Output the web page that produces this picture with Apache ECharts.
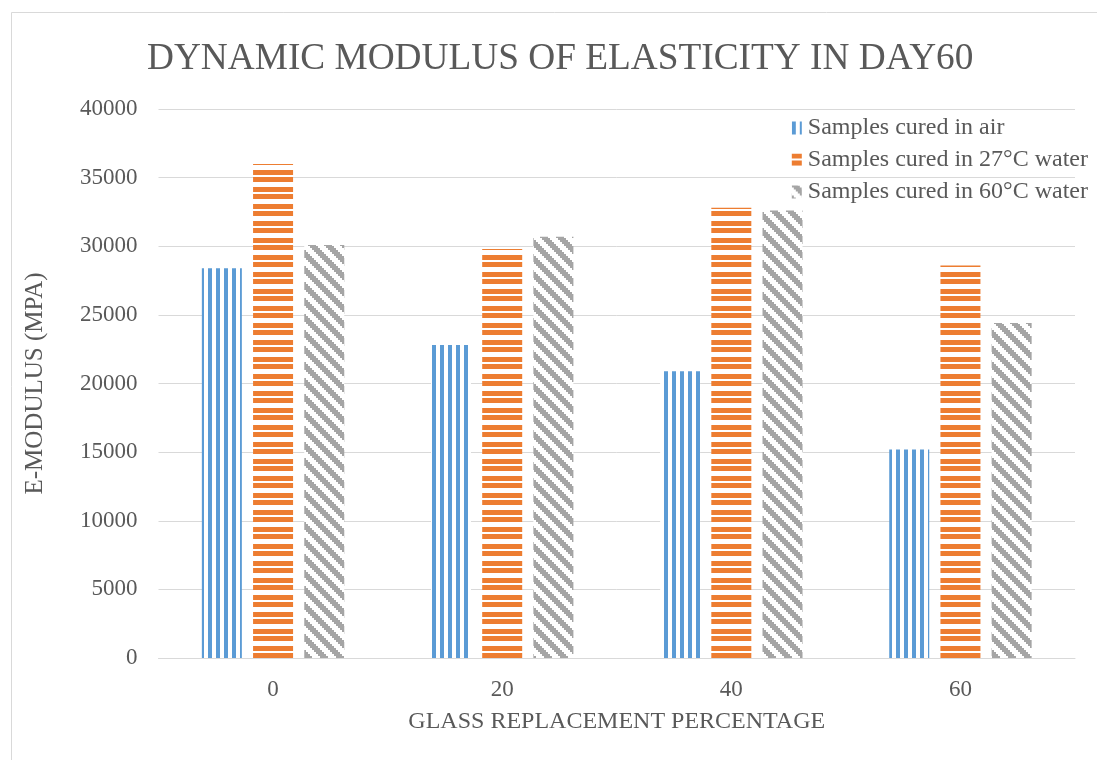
<!DOCTYPE html>
<html>
<head>
<meta charset="utf-8">
<script src="https://cdn.jsdelivr.net/npm/echarts@6/dist/echarts.min.js"></script>
<style>
html,body{margin:0;padding:0;background:#fff;}
#chart{width:1097px;height:760px;}
</style>
</head>
<body>
<div id="chart"></div>
<script>
var categories = ['0', '20', '40', '60'];
var seriesNames = ['Samples cured in air', 'Samples cured in 27°C water', 'Samples cured in 60°C water'];
var airValues = [28400, 22800, 20900, 15200];
var water27Values = [36000, 29800, 32800, 28600];
var water60Values = [30100, 30700, 32600, 24400];
var yTicks = [0, 5000, 10000, 15000, 20000, 25000, 30000, 35000, 40000];

function makeCanvas(w, h, draw) {
  var c = document.createElement('canvas');
  c.width = w; c.height = h;
  var ctx = c.getContext('2d');
  ctx.fillStyle = '#ffffff';
  ctx.fillRect(0, 0, w, h);
  draw(ctx);
  return c;
}
var bluePat = makeCanvas(8, 8, function (ctx) {
  ctx.fillStyle = '#5b9bd5';
  ctx.fillRect(0, 0, 4, 8);
});
var orangePat = makeCanvas(8, 17, function (ctx) {
  ctx.fillStyle = '#ed7d31';
  ctx.fillRect(0, 0, 8, 5);
  ctx.fillRect(0, 7, 8, 5);
});
var grayPat = makeCanvas(16, 16, function (ctx) {
  ctx.fillStyle = '#a5a5a5';
  for (var y = 0; y < 16; y += 2) {
    for (var x = 0; x < 16; x += 2) {
      var d = ((x - y) % 16 + 16) % 16;
      if (d < 8) ctx.fillRect(x, y, 2, 2);
    }
  }
});

var font = '"Liberation Serif", "Times New Roman", serif';
var chart = echarts.init(document.getElementById('chart'));
chart.setOption({
  backgroundColor: '#ffffff',
  animation: false,
  textStyle: { fontFamily: font },
  graphic: [{
    type: 'rect',
    shape: { x: 11.5, y: 12.5, width: 1100, height: 800 },
    style: { fill: 'none', stroke: '#d9d9d9', lineWidth: 1 },
    silent: true
  }],
  title: {
    text: 'DYNAMIC MODULUS OF ELASTICITY IN DAY60',
    left: 142,
    top: 36,
    textStyle: { fontFamily: font, fontSize: 37.3, fontWeight: 'normal', color: '#595959' }
  },
  legend: {
    orient: 'vertical',
    right: 4,
    top: 111,
    itemWidth: 10,
    itemHeight: 13,
    itemGap: 8,
    icon: 'rect',
    textStyle: { fontFamily: font, fontSize: 24, color: '#595959', padding: [0, 0, 0, 1] },
    data: seriesNames
  },
  grid: { left: 158.5, right: 22, top: 109, bottom: 102 },
  xAxis: {
    type: 'category',
    data: categories,
    name: 'GLASS REPLACEMENT PERCENTAGE',
    nameLocation: 'middle',
    nameGap: 52,
    nameTextStyle: { fontFamily: font, fontSize: 24, color: '#595959' },
    axisLine: { lineStyle: { color: '#d9d9d9', width: 1 } },
    axisTick: { show: false },
    axisLabel: { fontFamily: font, fontSize: 23, color: '#595959', margin: 20 }
  },
  yAxis: {
    type: 'value',
    min: yTicks[0],
    max: yTicks[yTicks.length - 1],
    interval: yTicks[1] - yTicks[0],
    name: 'E-MODULUS (MPA)',
    nameLocation: 'middle',
    nameGap: 111,
    nameTextStyle: { fontFamily: font, fontSize: 25, color: '#595959' },
    axisLine: { show: false },
    axisTick: { show: false },
    splitLine: { lineStyle: { color: '#d9d9d9', width: 1 } },
    axisLabel: { fontFamily: font, fontSize: 23, color: '#595959', margin: 21,
      formatter: function (v) { return String(v); } }
  },
  series: [
    { name: seriesNames[0], type: 'bar', data: airValues, barWidth: 40, barGap: '28%',
      itemStyle: { color: { image: bluePat, repeat: 'repeat' } } },
    { name: seriesNames[1], type: 'bar', data: water27Values, barWidth: 40, barGap: '28%',
      itemStyle: { color: { image: orangePat, repeat: 'repeat' } } },
    { name: seriesNames[2], type: 'bar', data: water60Values, barWidth: 40, barGap: '28%',
      itemStyle: { color: { image: grayPat, repeat: 'repeat' } } }
  ]
});
</script>
</body>
</html>
